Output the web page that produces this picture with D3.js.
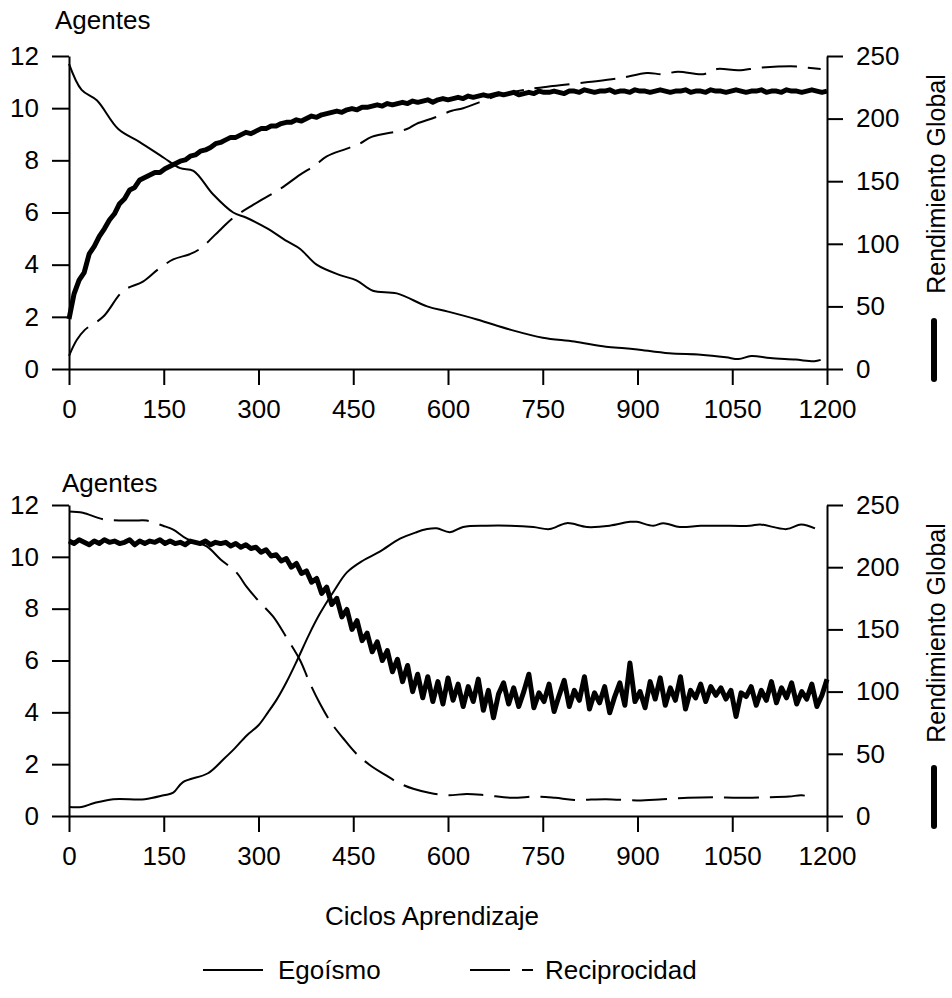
<!DOCTYPE html>
<html lang="es">
<head>
<meta charset="utf-8">
<title>Agentes / Rendimiento Global</title>
<script src="https://d3js.org/d3.v7.min.js"></script>
<style>
  body { margin: 0; background: #fff; }
</style>
</head>
<body>
<script>

var w = 952;
var h = 998;

// tick labels
var xTicks = [0, 150, 300, 450, 600, 750, 900, 1050, 1200];
var leftTicks = [0, 2, 4, 6, 8, 10, 12];
var rightTicks = [0, 50, 100, 150, 200, 250];
var legendNames = ["Egoísmo", "Reciprocidad"];

// Rendimiento Global is sampled every 8 learning cycles
var rendStep = 8;

/* ---- top panel ---- */
var egoTopCycles = [0, 20, 44, 78, 112, 150, 176, 197, 228, 260, 281, 313, 345, 366, 392, 429, 455, 481, 519, 567, 600, 646, 700, 750, 800, 850, 880, 900, 950, 1000, 1040, 1060, 1080, 1110, 1150, 1180, 1190];
var egoTopValues = [11.7, 10.7, 10.3, 9.2, 8.7, 8.1, 7.7, 7.6, 6.7, 6.0, 5.8, 5.4, 4.9, 4.6, 4.0, 3.6, 3.4, 3.0, 2.9, 2.4, 2.2, 1.9, 1.5, 1.2, 1.05, 0.85, 0.8, 0.75, 0.6, 0.55, 0.45, 0.38, 0.5, 0.42, 0.36, 0.3, 0.35];

var recTopCycles = [0, 12, 25, 54, 86, 117, 140, 165, 191, 207, 242, 260, 292, 334, 366, 389, 408, 440, 461, 479, 535, 550, 580, 606, 624, 682, 720, 766, 822, 872, 915, 940, 964, 1004, 1026, 1060, 1094, 1152, 1170, 1190];
var recTopValues = [0.5, 1.1, 1.5, 2.0, 3.0, 3.35, 3.8, 4.2, 4.4, 4.6, 5.4, 5.8, 6.3, 6.9, 7.45, 7.8, 8.15, 8.45, 8.65, 8.9, 9.2, 9.4, 9.65, 9.9, 10.0, 10.5, 10.7, 10.85, 11.0, 11.15, 11.35, 11.3, 11.4, 11.3, 11.5, 11.45, 11.55, 11.6, 11.55, 11.5];

var rendTop = [
  40, 60, 71, 77, 92, 98, 106, 112, 119, 124,
  132, 136, 143, 145, 151, 153, 155, 157, 157, 160,
  162, 164, 166, 167, 170, 171, 174, 175, 177, 180,
  181, 183, 185, 185, 187, 189, 188, 190, 192, 192,
  194, 194, 196, 197, 197, 199, 198, 200, 202, 201,
  203, 204, 205, 206, 205, 207, 208, 207, 209, 209,
  210, 211, 210, 212, 211, 212, 213, 212, 214, 213,
  214, 215, 213, 215, 216, 215, 216, 217, 216, 218,
  217, 218, 219, 218, 219, 220, 219, 220, 221, 219,
  220, 221, 220, 222, 221, 221, 222, 221, 220, 222,
  222, 221, 223, 222, 221, 222, 222, 223, 221, 222,
  222, 221, 223, 222, 222, 221, 222, 223, 222, 221,
  222, 222, 223, 221, 222, 222, 221, 223, 222, 222,
  221, 222, 223, 222, 221, 222, 222, 223, 221, 222,
  222, 221, 223, 222, 222, 221, 222, 223, 222, 221,
  222
];

/* ---- bottom panel ---- */
var egoBotCycles = [0, 20, 40, 70, 120, 150, 165, 180, 220, 245, 262, 281, 300, 315, 329, 345, 361, 380, 397, 420, 440, 465, 492, 524, 550, 567, 582, 603, 624, 661, 698, 735, 761, 788, 820, 856, 888, 899, 925, 941, 967, 1000, 1031, 1078, 1094, 1136, 1159, 1181];
var egoBotValues = [0.35, 0.35, 0.5, 0.65, 0.65, 0.8, 0.9, 1.3, 1.65, 2.2, 2.6, 3.1, 3.5, 4.0, 4.5, 5.2, 6.0, 7.0, 7.8, 8.7, 9.4, 9.85, 10.2, 10.7, 10.95, 11.07, 11.1, 10.95, 11.15, 11.2, 11.2, 11.15, 11.07, 11.3, 11.15, 11.2, 11.35, 11.35, 11.2, 11.3, 11.15, 11.2, 11.2, 11.2, 11.25, 11.07, 11.25, 11.1];

var recBotCycles = [0, 22, 54, 101, 123, 149, 165, 186, 218, 240, 265, 281, 300, 323, 344, 366, 380, 397, 415, 434, 455, 480, 500, 520, 545, 570, 600, 630, 660, 700, 740, 770, 800, 850, 900, 940, 980, 1020, 1060, 1100, 1140, 1160, 1180];
var recBotValues = [11.75, 11.7, 11.45, 11.4, 11.4, 11.2, 11.05, 10.7, 10.4, 9.9, 9.4, 8.85, 8.3, 7.7, 6.9, 6.0, 5.2, 4.35, 3.6, 3.0, 2.4, 1.9, 1.6, 1.3, 1.05, 0.9, 0.8, 0.85, 0.8, 0.7, 0.75, 0.7, 0.62, 0.65, 0.6, 0.65, 0.7, 0.72, 0.7, 0.72, 0.75, 0.8, 0.7];

var rendBot = [
  221, 219, 222, 220, 218, 221, 219, 222, 220, 221,
  219, 220, 222, 218, 221, 219, 221, 220, 222, 219,
  221, 219, 220, 218, 221, 220, 219, 221, 218, 220,
  219, 220, 217, 219, 216, 218, 215, 216, 212, 214,
  209, 210, 205, 207, 200, 203, 195, 197, 188, 191,
  179, 184, 170, 175, 160, 166, 150, 157, 141, 147,
  132, 140, 125, 133, 116, 126, 108, 121, 100, 114,
  95, 112, 92, 108, 90, 111, 93, 106, 88, 104,
  92, 110, 85, 101, 79, 98, 107, 90, 103, 88,
  100, 114, 87, 99, 92, 106, 84, 97, 109, 88,
  101, 93, 112, 86, 99, 91, 104, 83, 96, 107,
  89, 123, 92, 100, 87, 108, 94, 111, 89, 103,
  93, 112, 86, 101, 95, 106, 92, 104, 97, 103,
  94, 101, 80, 99, 96, 104, 89, 101, 93, 108,
  91, 103, 95, 107, 90, 100, 94, 106, 88, 97,
  110
];

var fontFam = '"Liberation Sans", Arial, Helvetica, sans-serif';
var fs = 26;

var svg = d3.select("body").append("svg")
  .attr("width", w).attr("height", h)
  .style("font-family", fontFam);

var x = d3.scaleLinear().domain([0, 1200]).range([69, 827]);

function pairs(cycles, values) {
  return cycles.map(function(c, i){ return [c, values[i]]; });
}

function drawPanel(p) {
  var yL = d3.scaleLinear().domain([0, 12]).range([p.bottom, p.top]);
  var yR = d3.scaleLinear().domain([0, 250]).range([p.bottom, p.top]);

  // axes
  var gl = svg.append("g").attr("transform", "translate(69,0)")
    .call(d3.axisLeft(yL).tickValues(leftTicks).tickSize(17).tickPadding(13).tickSizeOuter(0));
  var gr = svg.append("g").attr("transform", "translate(827,0)")
    .call(d3.axisRight(yR).tickValues(rightTicks).tickSize(16).tickPadding(13).tickSizeOuter(0));
  var gb = svg.append("g").attr("transform", "translate(0," + p.bottom + ")")
    .call(d3.axisBottom(x).tickValues(xTicks).tickFormat(d3.format("d"))
      .tickSize(16).tickPadding(15).tickSizeOuter(0));

  [gl, gr, gb].forEach(function(g){
    g.attr("font-size", fs).attr("font-family", fontFam);
    g.selectAll("path, line").attr("stroke", "#000").attr("stroke-width", 2);
    g.selectAll("text").attr("fill", "#000");
  });

  svg.append("text").attr("x", p.agX).attr("y", p.agY)
    .attr("font-size", fs).text("Agentes");

  // right axis title with its line key
  svg.append("text")
    .attr("transform", "translate(945," + (p.top + 128) + ") rotate(-90)")
    .attr("text-anchor", "middle")
    .attr("font-size", 25).text("Rendimiento Global");
  svg.append("line")
    .attr("x1", 934).attr("x2", 934)
    .attr("y1", p.bottom - 48).attr("y2", p.bottom + 10)
    .attr("stroke", "#000").attr("stroke-width", 6).attr("stroke-linecap", "round");

  var lineL = d3.line().x(function(d){ return x(d[0]); }).y(function(d){ return yL(d[1]); })
    .curve(d3.curveCatmullRom);
  var lineR = d3.line().x(function(d, i){ return x(i * rendStep); }).y(function(d){ return yR(d); });

  svg.append("path").datum(p.rend).attr("d", lineR)
    .attr("fill", "none").attr("stroke", "#000").attr("stroke-width", 5)
    .attr("stroke-linejoin", "round");

  svg.append("path").datum(p.ego).attr("d", lineL)
    .attr("fill", "none").attr("stroke", "#000").attr("stroke-width", 2);

  svg.append("path").datum(p.rec).attr("d", lineL)
    .attr("fill", "none").attr("stroke", "#000").attr("stroke-width", 2)
    .attr("stroke-dasharray", "35,11");
}

drawPanel({
  top: 56, bottom: 369, agX: 55, agY: 29,
  ego: pairs(egoTopCycles, egoTopValues),
  rec: pairs(recTopCycles, recTopValues),
  rend: rendTop
});

drawPanel({
  top: 505, bottom: 816, agX: 62, agY: 492,
  ego: pairs(egoBotCycles, egoBotValues),
  rec: pairs(recBotCycles, recBotValues),
  rend: rendBot
});

svg.append("text").attr("x", 432).attr("y", 925)
  .attr("text-anchor", "middle").attr("font-size", fs).text("Ciclos Aprendizaje");

// legend
svg.append("line").attr("x1", 203).attr("x2", 263).attr("y1", 970).attr("y2", 970)
  .attr("stroke", "#000").attr("stroke-width", 2);
svg.append("text").attr("x", 278).attr("y", 979).attr("font-size", fs).text(legendNames[0]);
svg.append("line").attr("x1", 470).attr("x2", 533).attr("y1", 970).attr("y2", 970)
  .attr("stroke", "#000").attr("stroke-width", 2).attr("stroke-dasharray", "40,12,11,100");
svg.append("text").attr("x", 545).attr("y", 979).attr("font-size", fs).text(legendNames[1]);

</script>
</body>
</html>
